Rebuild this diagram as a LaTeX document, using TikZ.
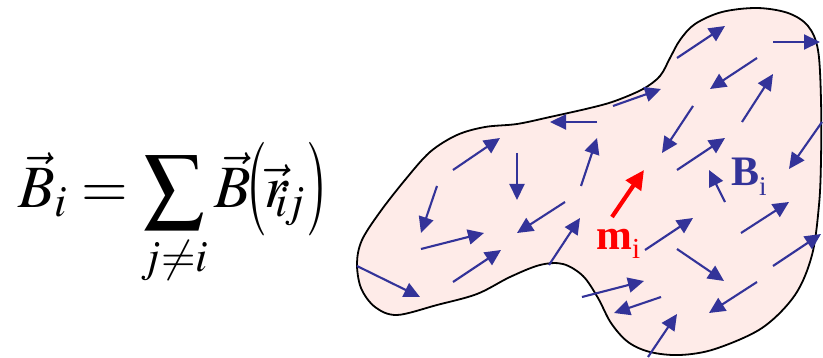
\documentclass[tikz,border=0pt]{standalone}
\usepackage{mathptmx}
\usepackage{fontspec}
\setmainfont{Liberation Serif}
\usetikzlibrary{arrows.meta}
\definecolor{navy}{RGB}{51,51,153}
\definecolor{blobfill}{RGB}{254,235,232}
\newcommand{\tallparen}[1]{\scalebox{0.8}[1.3]{$#1$}}
\begin{document}
\begin{tikzpicture}[x=1pt,y=-1pt,
  fa/.style={navy, line width=2.1pt, -{Triangle[length=16pt,width=15pt]}},
  ma/.style={red, line width=4.2pt, -{Triangle[length=19pt,width=18pt]}},
  outline/.style={line width=1.8pt, fill=blobfill},
  eqpart/.style={anchor=base west, inner sep=0, font=\fontsize{60}{72}\selectfont},
  eqc/.style={anchor=center, inner sep=0, font=\fontsize{60}{72}\selectfont}]
\useasboundingbox (0,0) rectangle (823,358);
% blob
\draw[outline] plot[smooth cycle, tension=0.55] coordinates {
 (357,263) (362,240) (380,212) (405,180) (430,152) (457,135) (485,127)
 (517,124) (550,117) (590,108) (615,101) (643,89) (660,76) (670,58)
 (680,40) (695,24) (722,12) (757,8) (788,13) (808,26) (818,50)
 (821,100) (821,160) (819,205) (812,255) (795,295) (762,328) (715,349)
 (680,355) (650,352) (628,342) (611,323) (598,298) (583,276) (563,264)
 (540,265) (510,277) (477,294) (437,305) (397,315) (375,307) (361,288)};
% field arrows
\draw[fa] (453,170) -- (500,138);
\draw[fa] (597,122) -- (550,122);
\draw[fa] (517,153) -- (517,200);
\draw[fa] (581,186) -- (597,138);
\draw[fa] (437,186) -- (421,233);
\draw[fa] (565,202) -- (517,233);
\draw[fa] (421,249) -- (484,233);
\draw[fa] (549,265) -- (580,218);
\draw[fa] (453,282) -- (501,250);
\draw[fa] (357,266) -- (420,297);
\draw[fa] (677,58) -- (725,26);
\draw[fa] (773,42) -- (820,42);
\draw[fa] (757,58) -- (710,89);
\draw[fa] (613,106) -- (661,89);
\draw[fa] (742,122) -- (773,74);
\draw[fa] (693,106) -- (662,153);
\draw[fa] (677,170) -- (725,138);
\draw[fa] (822,122) -- (789,169);
\draw[fa] (725,202) -- (709,170);
\draw[fa] (741,233) -- (789,202);
\draw[fa] (645,250) -- (693,218);
\draw[fa] (773,266) -- (821,234);
\draw[fa] (677,249) -- (724,281);
\draw[fa] (757,282) -- (709,313);
\draw[fa] (582,297) -- (644,281);
\draw[fa] (661,297) -- (614,313);
\draw[fa] (648,357) -- (677,314);
% magnetic moment
\draw[ma] (612,217) -- (644,170);
\node[anchor=base west, inner sep=0, text=red,
      font=\fontsize{43}{43}\selectfont\bfseries] (mlab) at (596,250)
      {m\raisebox{-9pt}{\fontsize{29}{29}\selectfont\mdseries i}};
\node[anchor=base west, inner sep=0, text=navy,
      font=\fontsize{42}{42}\selectfont\bfseries] (blab) at (731,186)
      {B\raisebox{-10pt}{\fontsize{27}{27}\selectfont\mdseries i}};
% formula
\node[eqpart] (eqa) at (18,208)
  {$\displaystyle \vec{B}_{i} = \sum_{j\neq i}\vec{B}$};
\node[eqc] (lpar) at (255,189) {\tallparen{\bigl(}};
\node[eqpart] (rij) at (264,208) {$\vec{r}_{\mkern-5mu i\mkern-1mu j}$};
\node[eqc] (rpar) at (318,189) {\tallparen{\bigr)}};
\end{tikzpicture}
\end{document}
